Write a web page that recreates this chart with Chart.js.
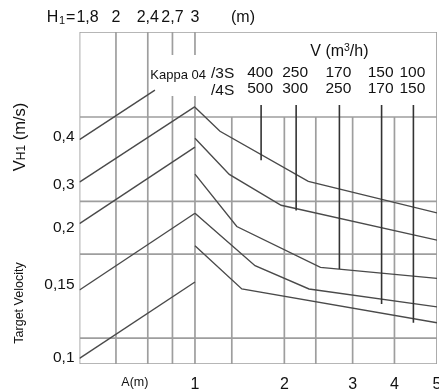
<!DOCTYPE html>
<html>
<head>
<meta charset="utf-8">
<script src="https://cdn.jsdelivr.net/npm/chart.js@4.4.1/dist/chart.umd.min.js"></script>
<style>
  html, body { margin: 0; padding: 0; background: #fff; }
</style>
</head>
<body>
<canvas id="nomo" width="439" height="391"></canvas>
<script>
// nomogram units: x and y both run 0..100 across the drawing frame
const hLabels = ['1,8', '2', '2,4', '2,7', '3'];
const hPos = [0, 10.2, 19.1, 26.0, 32.3];
const aLabels = ['1', '2', '3', '4', '5'];
const aPos = [32.3, 57.3, 76.4, 88.1, 100];
const aMinor = [42.6, 66.1];
const aTitlePos = 15.5;
const gridY = [0, 7.8, 33.1, 49.0, 74.4, 100];
const vLabels = ['0,1', '0,15', '0,2', '0,3', '0,4'];
const vPos = [1.8, 23.8, 41.0, 53.9, 68.5];

// diagonals on the H1 side, all starting on the left edge
const guideStart = [67.6, 54.8, 42.3, 22.3, 1.7];
const guideEndX = [21.1, 32.3, 32.3, 32.3, 32.3];
const guideEndY = [82.5, 77.5, 65.3, 45.4, 24.7];

// curves on the A side
const curveX = [
  [32.3, 39.3, 64.0, 100],
  [32.3, 41.9, 56.4, 100],
  [32.3, 44.0, 67.4, 100],
  [32.3, 49.1, 64.2, 100],
  [32.3, 45.4, 100]
];
const curveY = [
  [77.3, 70.1, 55.0, 45.5],
  [68.0, 57.1, 47.8, 37.3],
  [57.2, 41.4, 29.1, 25.8],
  [45.4, 29.6, 22.6, 17.2],
  [35.6, 22.6, 12.4]
];

// V (m3/h) markers for /3S and /4S
const flow3S = ['400', '250', '170', '150', '100'];
const flow4S = ['500', '300', '250', '170', '150'];
const flowX = [50.8, 60.6, 72.7, 84.5, 93.4];
const flowTop = 78.0;
const flowEnd = [61.4, 46.2, 28.6, 18.1, 12.4];

const labelGap = [80.7, 93.1]; // grid interrupted by the Kappa label
const rightTop = 74.4;         // right verticals stop under the V block

const FONT = "'Liberation Sans', Arial, Helvetica, sans-serif";

// grid as one broken line
const gridPts = [];
function seg(x1, y1, x2, y2){
    gridPts.push({x: x1, y: y1}, {x: x2, y: y2}, {x: x2, y: null});
}
gridY.forEach(v => seg(0, v, 100, v));
hPos.forEach((h, i) => {
    if (i < 3) {
        seg(h, 0, h, 100);
    } else {
        seg(h, 0, h, labelGap[0]);
        seg(h, labelGap[1], h, 100);
    }
});
aPos.slice(1, -1).concat(aMinor).forEach(a => seg(a, 0, a, rightTop));
seg(100, 0, 100, 100);

const flowPts = [];
flowX.forEach((fx, i) => {
    flowPts.push({x: fx, y: flowTop}, {x: fx, y: flowEnd[i]}, {x: fx, y: null});
});

const lineStyle = {
    borderColor: '#4a4a4a',
    borderWidth: 1.4,
    pointRadius: 0,
    fill: false,
    tension: 0,
    order: 1
};

const datasets = [
    {data: gridPts, borderColor: '#9e9e9e', borderWidth: 1.7, pointRadius: 0, spanGaps: false, order: 5},
    {data: flowPts, borderColor: '#333', borderWidth: 1.6, pointRadius: 0, spanGaps: false, order: 0}
];
guideStart.forEach((s, i) => {
    datasets.push({...lineStyle, data: [{x: 0, y: s}, {x: guideEndX[i], y: guideEndY[i]}]});
});
curveX.forEach((xs, i) => {
    datasets.push({...lineStyle, data: xs.map((cx, j) => ({x: cx, y: curveY[i][j]}))});
});

const textPlugin = {
    id: 'nomoText',
    afterDraw(chart){
        const {ctx, chartArea, scales: {x, y}} = chart;
        ctx.save();
        ctx.fillStyle = '#111';
        ctx.textBaseline = 'middle';

        // H1 row
        ctx.font = '16px ' + FONT;
        ctx.textAlign = 'center';
        const rowY = 18;
        hLabels.forEach((lab, i) => {
            const px = x.getPixelForValue(hPos[i]) + (i === 0 ? 8 : 0);
            ctx.fillText(lab, px, rowY);
        });
        let left = x.getPixelForValue(hPos[0]) + 8 - ctx.measureText(hLabels[0]).width / 2;
        ctx.textAlign = 'right';
        ctx.fillText('=', left - 1, rowY);
        left -= ctx.measureText('=').width + 2;
        ctx.font = '11px ' + FONT;
        ctx.fillText('1', left, rowY + 3);
        left -= ctx.measureText('1').width + 0.5;
        ctx.font = '16px ' + FONT;
        ctx.fillText('H', left, rowY);
        ctx.textAlign = 'left';
        ctx.fillText('(m)', x.getPixelForValue(hPos[4]) + 36, rowY);

        // V (m3/h)
        const vx = x.getPixelForValue(flowX[2]);
        const p1 = 'V (m', p3 = '/h)';
        ctx.font = '16px ' + FONT;
        const w1 = ctx.measureText(p1).width, w3 = ctx.measureText(p3).width;
        ctx.font = '10.5px ' + FONT;
        const w2 = ctx.measureText('3').width;
        let tx = vx - (w1 + w2 + w3) / 2;
        const ty = chartArea.top + 20;
        ctx.textAlign = 'left';
        ctx.font = '16px ' + FONT;
        ctx.fillText(p1, tx, ty);
        ctx.font = '10.5px ' + FONT;
        ctx.fillText('3', tx + w1, ty - 4);
        ctx.font = '16px ' + FONT;
        ctx.fillText(p3, tx + w1 + w2, ty);

        // flow values
        ctx.textAlign = 'center';
        ctx.font = '15.5px ' + FONT;
        flowX.forEach((fx, i) => {
            const px = x.getPixelForValue(fx) - 1;
            ctx.fillText(flow3S[i], px, chartArea.top + 41);
            ctx.fillText(flow4S[i], px, chartArea.top + 57);
        });

        // Kappa label
        const kx = x.getPixelForValue(hPos[4]);
        ctx.font = '13px ' + FONT;
        ctx.textAlign = 'right';
        ctx.fillText('Kappa 04', kx + 11, chartArea.top + 43);
        ctx.font = '15.5px ' + FONT;
        ctx.textAlign = 'left';
        ctx.fillText('/3S', kx + 16, chartArea.top + 42);
        ctx.fillText('/4S', kx + 16, chartArea.top + 59);

        // vertical titles
        ctx.save();
        ctx.translate(25, 137);
        ctx.rotate(-Math.PI / 2);
        ctx.textBaseline = 'alphabetic';
        ctx.textAlign = 'left';
        ctx.font = '16.5px ' + FONT;
        const wv = ctx.measureText('V').width;
        const wm = ctx.measureText(' (m/s)').width;
        ctx.font = '12px ' + FONT;
        const wh = ctx.measureText('H1').width;
        let sx = -(wv + wh + wm) / 2;
        ctx.font = '16.5px ' + FONT;
        ctx.fillText('V', sx, 0);
        ctx.font = '12px ' + FONT;
        ctx.fillText('H1', sx + wv, 0);
        ctx.font = '16.5px ' + FONT;
        ctx.fillText(' (m/s)', sx + wv + wh, 0);
        ctx.restore();

        ctx.save();
        ctx.translate(23, 303);
        ctx.rotate(-Math.PI / 2);
        ctx.textBaseline = 'alphabetic';
        ctx.textAlign = 'center';
        ctx.font = '12.5px ' + FONT;
        ctx.fillText('Target Velocity', 0, 0);
        ctx.restore();

        ctx.restore();
    }
};

new Chart(document.getElementById('nomo'), {
    type: 'line',
    data: {datasets: datasets},
    options: {
        responsive: false,
        animation: false,
        devicePixelRatio: 1,
        layout: {padding: {top: 32, right: 2, left: 0, bottom: 0}},
        plugins: {legend: {display: false}, tooltip: {enabled: false}},
        scales: {
            x: {
                type: 'linear',
                min: 0,
                max: 100,
                grid: {display: false, drawTicks: false},
                border: {display: false},
                afterBuildTicks: axis => {
                    axis.ticks = [aTitlePos].concat(aPos).map(v => ({value: v}));
                },
                afterFit: axis => {
                    axis.height = 27;
                    axis.paddingLeft = 0;
                    axis.paddingRight = 0;
                },
                ticks: {
                    autoSkip: false,
                    maxRotation: 0,
                    padding: 11,
                    color: '#111',
                    font: ctx => (ctx.tick && ctx.tick.value === aTitlePos)
                        ? {family: FONT, size: 12.5}
                        : {family: FONT, size: 16},
                    callback: v => v === aTitlePos ? 'A(m)' : aLabels[aPos.indexOf(v)]
                }
            },
            y: {
                type: 'linear',
                min: 0,
                max: 100,
                grid: {display: false, drawTicks: false},
                border: {display: false},
                afterBuildTicks: axis => {
                    axis.ticks = vPos.map(v => ({value: v}));
                },
                afterFit: axis => {
                    axis.width = 79.5;
                    axis.paddingTop = 0;
                    axis.paddingBottom = 0;
                },
                ticks: {
                    autoSkip: false,
                    padding: 5,
                    color: '#111',
                    font: {family: FONT, size: 15.5},
                    callback: v => vLabels[vPos.indexOf(v)]
                }
            }
        }
    },
    plugins: [textPlugin]
});
</script>
</body>
</html>
